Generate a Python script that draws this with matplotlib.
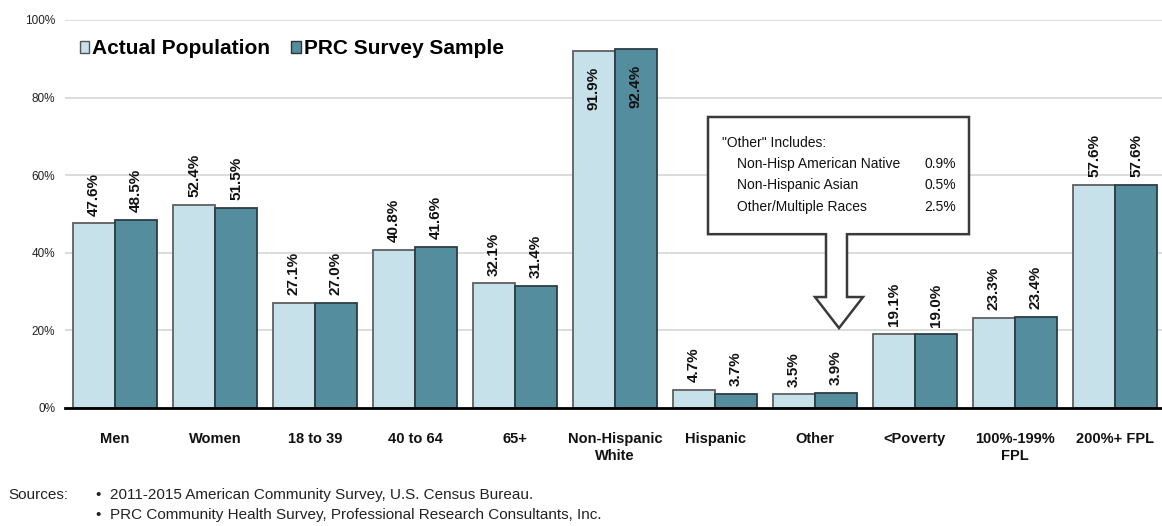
import numpy as np
import matplotlib
matplotlib.use("Agg")
from matplotlib import pyplot as plt
from matplotlib.patches import Patch, Polygon

plt.rcParams['font.family'] = ['Liberation Sans', 'DejaVu Sans']

# data
categories = ["Men", "Women", "18 to 39", "40 to 64", "65+", "Non-Hispanic\nWhite",
              "Hispanic", "Other", "<Poverty", "100%-199%\nFPL", "200%+ FPL"]
actual_population = [47.6, 52.4, 27.1, 40.8, 32.1, 91.9, 4.7, 3.5, 19.1, 23.3, 57.6]
survey_sample = [48.5, 51.5, 27.0, 41.6, 31.4, 92.4, 3.7, 3.9, 19.0, 23.4, 57.6]
series_names = ["Actual Population", "PRC Survey Sample"]
y_ticks = [0, 20, 40, 60, 80, 100]

other_title = '"Other" Includes:'
other_groups = ["Non-Hisp American Native", "Non-Hispanic Asian", "Other/Multiple Races"]
other_values = ["0.9%", "0.5%", "2.5%"]

sources = ["2011-2015 American Community Survey, U.S. Census Bureau.",
           "PRC Community Health Survey, Professional Research Consultants, Inc."]

LIGHT = "#c6e1ea"
DARK = "#548d9e"

W, H = 1162, 526
fig = plt.figure(figsize=(W / 100, H / 100), dpi=100)
ax = fig.add_axes([65 / W, 118 / H, (W - 65) / W, 388 / H])

x = np.arange(len(categories))
bw = 0.42
ax.bar(x - bw / 2, actual_population, bw, color=LIGHT, edgecolor="#5f5f5f", linewidth=1.3, zorder=3)
ax.bar(x + bw / 2, survey_sample, bw, color=DARK, edgecolor="#2c3e44", linewidth=1.3, zorder=3)

# value labels
for xs, vals in ((x - bw / 2, actual_population), (x + bw / 2, survey_sample)):
    for xi, v in zip(xs, vals):
        if v > 85:
            ax.text(xi, v - 4, f"{v:.1f}%", rotation=90, ha="center", va="top",
                    fontsize=11, fontweight="bold", color="#111111", zorder=4)
        else:
            ax.text(xi, v + 2, f"{v:.1f}%", rotation=90, ha="center", va="bottom",
                    fontsize=11, fontweight="bold", color="#111111", zorder=4)

ax.set_xlim(-0.5, (W - 65) / 100 - 0.5)
ax.set_ylim(0, 100)
ax.set_yticks(y_ticks)
ax.set_yticklabels([f"{t}%" for t in y_ticks], fontsize=8.5, color="#222222")
ax.set_xticks(x)
ax.set_xticklabels(categories, fontsize=10.5, fontweight="bold", color="#111111", linespacing=1.3)
ax.tick_params(axis="both", length=0)
ax.tick_params(axis="x", pad=17)
ax.tick_params(axis="y", pad=7)
ax.grid(axis="y", color="#d9d9d9", linewidth=1.3, zorder=0)
for s in ("top", "right", "left"):
    ax.spines[s].set_visible(False)
ax.spines["bottom"].set_color("black")
ax.spines["bottom"].set_linewidth(2)
ax.spines["bottom"].set_zorder(5)

# legend
handles = [Patch(facecolor=LIGHT, edgecolor="#555555"), Patch(facecolor=DARK, edgecolor="#333333")]
ax.legend(handles, series_names, ncol=2, loc="center left", frameon=False,
          bbox_to_anchor=(80 / W, 1 - 49 / H), bbox_transform=fig.transFigure,
          prop={"size": 15, "weight": "bold"}, handlelength=0.45, handleheight=0.45,
          handletextpad=0.15, columnspacing=1.0, borderpad=0, borderaxespad=0)

# callout box with arrow pointing at "Other"
oi = categories.index("Other")
bx0, bx1, by0, by1 = oi - 1.07, oi + 1.54, 44.8, 75.0
sx0, sx1, hx0, hx1 = oi + 0.11, oi + 0.32, oi + 0.0, oi + 0.48
tip_x, tip_y, head_y = oi + 0.24, 20.6, 28.6
callout = Polygon([(bx0, by0), (bx0, by1), (bx1, by1), (bx1, by0), (sx1, by0), (sx1, head_y),
                   (hx1, head_y), (tip_x, tip_y), (hx0, head_y), (sx0, head_y), (sx0, by0)],
                  closed=True, facecolor="white", edgecolor="#3a3a3a", linewidth=1.8, zorder=6)
ax.add_patch(callout)
ax.text(bx0 + 0.14, 68.3, other_title, fontsize=10, color="#111111", va="center",
        family=["Liberation Sans Narrow", "Liberation Sans"], zorder=7)
for i, (g, v) in enumerate(zip(other_groups, other_values)):
    yy = 63.0 - i * 5.6
    ax.text(bx0 + 0.29, yy, g, fontsize=10, color="#111111", va="center",
            family=["Liberation Sans Narrow", "Liberation Sans"], zorder=7)
    ax.text(bx1 - 0.13, yy, v, fontsize=10, color="#111111", va="center", ha="right",
            family=["Liberation Sans Narrow", "Liberation Sans"], zorder=7)

# sources
fig.text(8 / W, 1 - 495 / H, "Sources:", fontsize=11, va="center", color="#222222")
for i, src in enumerate(sources):
    yy = 1 - (495 + 20 * i) / H
    fig.text(95 / W, yy, "\u2022", fontsize=11, va="center", color="#222222")
    fig.text(110 / W, yy, src, fontsize=11, va="center", color="#222222")

fig.savefig("out.png", dpi=100)
